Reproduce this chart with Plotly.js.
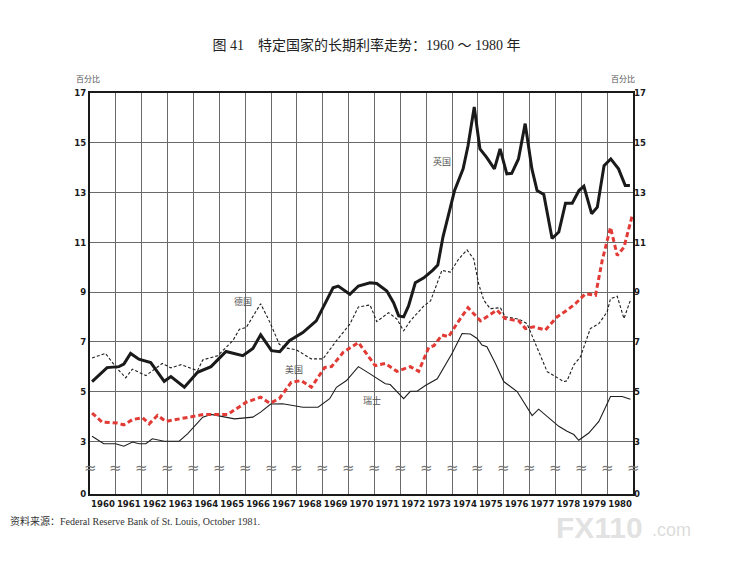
<!DOCTYPE html>
<html>
<head>
<meta charset="utf-8">
<script src="https://cdn.plot.ly/plotly-3.0.1.min.js"></script>
<style>
  body { margin: 0; background: #ffffff; }
  #chart { width: 733px; height: 567px; }
</style>
</head>
<body>
<div id="chart"></div>
<script>
// values (decimal years, percent)
let uk_X = [1960.08, 1960.66, 1961.12, 1961.31, 1961.57, 1961.89, 1962.35, 1962.87, 1963.13, 1963.65, 1964.16, 1964.68, 1965.26, 1965.91, 1966.30, 1966.60, 1967.02, 1967.34, 1967.71, 1968.23, 1968.75, 1969.01, 1969.40, 1969.60, 1970.05, 1970.38, 1970.83, 1971.09, 1971.48, 1971.74, 1971.94, 1972.13, 1972.32, 1972.58, 1972.91, 1973.26, 1973.45, 1973.65, 1973.84, 1974.10, 1974.43, 1974.62, 1974.86, 1975.08, 1975.34, 1975.64, 1975.86, 1976.12, 1976.31, 1976.57, 1976.83, 1977.09, 1977.29, 1977.55, 1977.87, 1978.13, 1978.39, 1978.65, 1978.91, 1979.10, 1979.40, 1979.62, 1979.88, 1980.14, 1980.44, 1980.70, 1980.88]
let uk_Y = [5.4, 5.96, 6.0, 6.1, 6.53, 6.3, 6.16, 5.41, 5.6, 5.17, 5.77, 6.0, 6.61, 6.44, 6.73, 7.28, 6.64, 6.6, 7.04, 7.37, 7.84, 8.37, 9.17, 9.24, 8.91, 9.24, 9.37, 9.34, 9.04, 8.57, 8.04, 8.0, 8.44, 9.37, 9.57, 9.88, 10.08, 11.21, 11.95, 13.08, 13.95, 14.88, 16.44, 14.75, 14.41, 13.95, 14.75, 13.75, 13.77, 14.35, 15.77, 13.95, 13.08, 12.92, 11.15, 11.41, 12.57, 12.57, 13.08, 13.25, 12.15, 12.41, 14.08, 14.35, 13.95, 13.28, 13.28]

let de_X = [1960.08, 1960.6, 1960.99, 1961.38, 1961.64, 1962.16, 1962.8, 1963.13, 1963.52, 1964.16, 1964.36, 1964.94, 1965.52, 1965.78, 1966.04, 1966.6, 1966.95, 1967.32, 1967.58, 1967.97, 1968.56, 1969.01, 1969.53, 1970.05, 1970.38, 1970.83, 1971.09, 1971.55, 1971.87, 1972.13, 1972.39, 1972.91, 1973.17, 1973.61, 1973.94, 1974.26, 1974.58, 1974.84, 1975.03, 1975.23, 1975.48, 1975.87, 1976.06, 1976.58, 1976.9, 1977.16, 1977.48, 1977.68, 1978.0, 1978.32, 1978.45, 1978.71, 1978.97, 1979.16, 1979.35, 1979.68, 1980.0, 1980.13, 1980.39, 1980.65, 1980.9]
let de_Y = [6.35, 6.53, 6.0, 5.55, 5.9, 5.64, 6.13, 5.95, 6.08, 5.84, 6.27, 6.44, 7.04, 7.5, 7.57, 8.53, 7.8, 6.9, 6.75, 6.68, 6.31, 6.31, 7.04, 7.71, 8.4, 8.48, 7.81, 8.17, 7.91, 7.44, 7.84, 8.44, 8.64, 9.87, 9.8, 10.33, 10.69, 10.33, 9.33, 8.67, 8.33, 8.37, 8.0, 7.91, 7.73, 7.07, 6.27, 5.8, 5.6, 5.4, 5.43, 6.07, 6.4, 6.93, 7.53, 7.73, 8.2, 8.73, 8.83, 7.93, 8.67]

let us_X = [1960.08, 1960.47, 1961.05, 1961.31, 1961.64, 1962.03, 1962.29, 1962.61, 1962.93, 1963.78, 1964.42, 1965.33, 1966.04, 1966.6, 1966.95, 1967.32, 1967.78, 1968.17, 1968.56, 1969.08, 1969.34, 1969.79, 1970.38, 1970.7, 1971.03, 1971.42, 1971.87, 1972.39, 1972.71, 1973.1, 1973.3, 1973.61, 1973.87, 1974.19, 1974.62, 1975.1, 1975.42, 1975.74, 1976.06, 1976.58, 1976.84, 1977.16, 1977.61, 1978.06, 1978.45, 1978.77, 1979.16, 1979.55, 1979.81, 1980.13, 1980.39, 1980.65, 1980.97]
let us_Y = [4.13, 3.77, 3.73, 3.66, 3.87, 3.95, 3.7, 4.04, 3.8, 3.97, 4.08, 4.08, 4.57, 4.77, 4.53, 4.71, 5.37, 5.44, 5.17, 5.97, 6.0, 6.57, 6.97, 6.51, 6.04, 6.13, 5.81, 6.0, 5.81, 6.77, 6.84, 7.27, 7.2, 7.73, 8.37, 7.84, 8.07, 8.27, 7.93, 7.84, 7.53, 7.6, 7.47, 8.0, 8.27, 8.53, 8.93, 8.87, 10.27, 11.6, 10.47, 10.8, 12.07]

let ch_X = [1960.08, 1960.53, 1960.99, 1961.31, 1961.64, 1961.9, 1962.16, 1962.41, 1962.87, 1963.45, 1963.78, 1964.36, 1964.68, 1965.14, 1965.59, 1966.3, 1966.6, 1966.99, 1967.45, 1968.23, 1968.82, 1969.27, 1969.53, 1969.92, 1970.38, 1970.83, 1971.42, 1971.61, 1971.94, 1972.13, 1972.39, 1972.65, 1972.97, 1973.43, 1974.0, 1974.39, 1974.71, 1974.97, 1975.16, 1975.35, 1975.68, 1976.0, 1976.52, 1976.77, 1977.1, 1977.35, 1977.74, 1978.13, 1978.45, 1978.71, 1978.9, 1979.29, 1979.68, 1979.94, 1980.13, 1980.58, 1980.9]
let ch_Y = [3.2, 2.9, 2.9, 2.8, 2.97, 2.9, 2.9, 3.1, 3.0, 3.0, 3.31, 3.97, 4.08, 4.0, 3.9, 3.97, 4.17, 4.5, 4.51, 4.37, 4.37, 4.71, 5.17, 5.44, 6.0, 5.71, 5.31, 5.28, 4.91, 4.71, 5.01, 5.01, 5.24, 5.51, 6.53, 7.33, 7.31, 7.13, 6.87, 6.8, 6.13, 5.4, 5.0, 4.6, 4.03, 4.29, 3.93, 3.6, 3.4, 3.27, 3.04, 3.33, 3.8, 4.4, 4.8, 4.8, 4.69]

// axis labels
let years = []
for (let y = 1960; y <= 1980; y++) years.push(y)
let year_Centers = years.map(y => y + 0.5)
let year_Labels = years.map(y => String(y))
// the scale is broken below 3: the "0" tick sits just under the break
let zero_Pos = 0.88
let y_Tick_Vals = [zero_Pos, 3, 5, 7, 9, 11, 13, 15, 17]
let y_Tick_Text = ["0", "3", "5", "7", "9", "11", "13", "15", "17"]
let break_Pos = 1.94

let country_Names = ["英国", "德国", "美国", "瑞士"]
let label_X = [1973.6, 1965.9, 1967.9, 1970.9]
let label_Y = [14.25, 8.6, 5.9, 4.62]

let tickFont = { family: 'DejaVu Sans Condensed, DejaVu Sans, sans-serif', size: 9.5, color: '#1a1a1a', weight: 'bold' }
let cjk = 'Noto Sans CJK SC, sans-serif'

let traces = [
    { x: ch_X, y: ch_Y, type: 'scatter', mode: 'lines', line: { color: '#1e1e1e', width: 1.1 } },
    { x: de_X, y: de_Y, type: 'scatter', mode: 'lines', line: { color: '#1e1e1e', width: 1.1, dash: '3px,2px' } },
    { x: us_X, y: us_Y, type: 'scatter', mode: 'lines', line: { color: '#e23a35', width: 3, dash: '5px,3px' } },
    { x: uk_X, y: uk_Y, type: 'scatter', mode: 'lines', line: { color: '#1a1a1a', width: 3 } },
    // empty trace so the right-hand scale is drawn
    { x: [1960], y: [null], yaxis: 'y2', type: 'scatter', mode: 'lines', hoverinfo: 'skip' }
]

let annotations = []
country_Names.forEach((name, i) => {
    annotations.push({
        x: label_X[i], y: label_Y[i], xref: 'x', yref: 'y', text: name, showarrow: false,
        font: { family: cjk, size: 9, color: '#555' }
    })
})
// break marks on every vertical grid line
for (let y = 1960; y <= 1981; y++) {
    annotations.push({
        x: y, y: break_Pos, xref: 'x', yref: 'y', text: '≈', showarrow: false,
        font: { family: 'DejaVu Sans', size: 15, color: '#777' }
    })
}

// texts outside the plot, placed in paper coordinates from page pixels
let mL = 90, mR = 100, mT = 93, mB = 73
let plotW = 733 - mL - mR, plotH = 567 - mT - mB
function px(x) { return (x - mL) / plotW }
function py(y) { return (567 - mB - y) / plotH }
function pageText(x, y, text, font, xanchor) {
    annotations.push({ x: px(x), y: py(y), xref: 'paper', yref: 'paper', xanchor: xanchor || 'center', yanchor: 'middle',
        text: text, showarrow: false, font: font })
}
pageText(88, 79, '百分比', { family: cjk, size: 8, color: '#555' })
pageText(623, 78, '百分比', { family: cjk, size: 8, color: '#555' })
pageText(8, 521, '资料来源：Federal Reserve Bank of St. Louis, October 1981.',
    { family: 'Liberation Serif, Noto Sans CJK SC, serif', size: 10, color: '#333' }, 'left')
// faint site watermark, kept just under the year labels
pageText(554, 527, '<b>FX110</b>', { family: 'Liberation Sans, sans-serif', size: 30, color: 'rgba(190,190,190,0.45)' }, 'left')
pageText(650, 530, '.com', { family: 'Liberation Sans, sans-serif', size: 18, color: 'rgba(190,190,190,0.55)' }, 'left')

let layout = {
    width: 733, height: 567,
    margin: { l: mL, r: mR, t: mT, b: mB },
    paper_bgcolor: '#ffffff', plot_bgcolor: '#ffffff',
    showlegend: false,
    title: {
        text: '图 41　特定国家的长期利率走势：1960 ～ 1980 年',
        xref: 'container', yref: 'container', x: 0.5, y: 0.921, xanchor: 'center', yanchor: 'middle',
        font: { family: 'Liberation Serif, Noto Sans CJK SC, serif', size: 14, color: '#222' }
    },
    xaxis: {
        range: [1960, 1981], tickmode: 'array', tickvals: year_Centers, ticktext: year_Labels,
        tickangle: 0, automargin: false,
        showgrid: false, zeroline: false, ticks: '',
        showline: true, mirror: true, linecolor: '#1a1a1a', linewidth: 2,
        tickfont: tickFont,
        minor: { tickmode: 'linear', tick0: 1960, dtick: 1, showgrid: true, gridcolor: '#6a6a6a', gridwidth: 1, ticks: '' }
    },
    yaxis: {
        range: [zero_Pos, 17], tickmode: 'array', tickvals: y_Tick_Vals, ticktext: y_Tick_Text,
        showgrid: true, gridcolor: '#6a6a6a', gridwidth: 1, zeroline: false, ticks: '',
        showline: true, mirror: true, linecolor: '#1a1a1a', linewidth: 2,
        tickfont: tickFont, automargin: false
    },
    yaxis2: {
        overlaying: 'y', side: 'right', matches: 'y', range: [zero_Pos, 17],
        tickmode: 'array', tickvals: y_Tick_Vals, ticktext: y_Tick_Text,
        showgrid: false, zeroline: false, ticks: '', showline: false,
        tickfont: tickFont, automargin: false
    },
    annotations: annotations,
    font: { family: cjk }
}

Plotly.newPlot('chart', traces, layout, { displayModeBar: false, staticPlot: true })
</script>
</body>
</html>
